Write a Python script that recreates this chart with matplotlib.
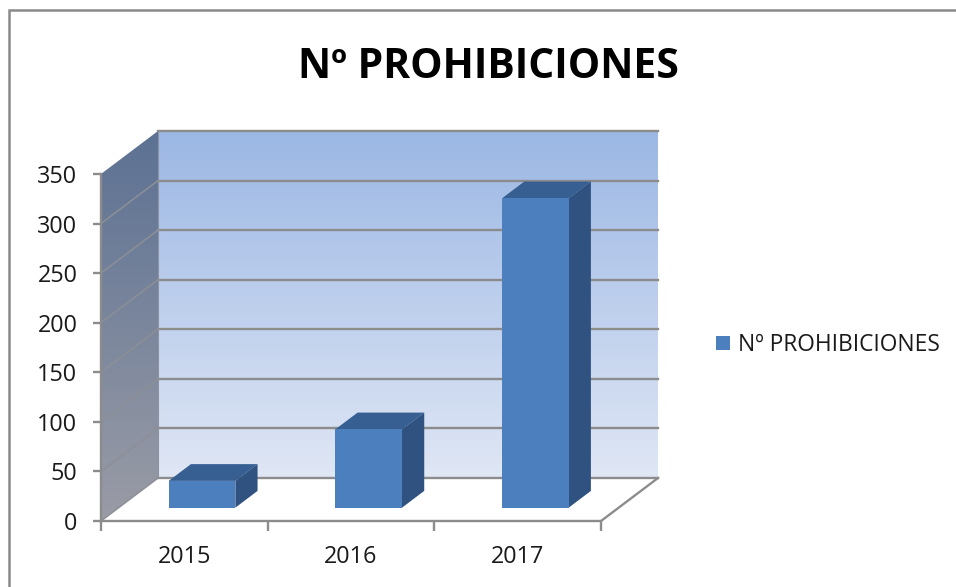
import numpy as np
import matplotlib
matplotlib.use('Agg')
from matplotlib import pyplot as plt
from matplotlib.colors import LinearSegmentedColormap
from matplotlib.lines import Line2D
from matplotlib.patches import Polygon

plt.rcParams['font.family'] = ['Open Sans', 'DejaVu Sans']

years = ['2015', '2016', '2017']
prohibiciones = [27, 79, 312]
y_ticks = [0, 50, 100, 150, 200, 250, 300, 350]
titulo = 'Nº PROHIBICIONES'

W, H = 956, 587
GREY = '#8c8c8c'

fig = plt.figure(figsize=(W / 100, H / 100), dpi=100, facecolor='white')
# front plane of the fake 3d box
ax = fig.add_axes([101 / W, 1 - 521 / H, 500 / W, 347 / H])
ax.set_facecolor('none')

# depth of the box, in data units
DX = 57 / 500 * 3
DY = 43 / 347 * 350
BAR_W = 0.4
D_FRONT, D_BACK = 0.31, 0.70


def pr(x, y, d):
    return (x + d * DX, y + d * DY)


# back wall
cm_back = LinearSegmentedColormap.from_list('back', ['#9bb7e4', '#e0e7f5'])
ax.imshow(np.linspace(0, 1, 256).reshape(-1, 1), cmap=cm_back, aspect='auto',
          extent=(DX, 3 + DX, DY, 350 + DY), origin='upper', zorder=1, clip_on=False)

# side wall
cm_side = LinearSegmentedColormap.from_list('side', ['#5c7193', '#9a9ca6'])
side = ax.imshow(np.linspace(0, 1, 256).reshape(-1, 1), cmap=cm_side, aspect='auto',
                 extent=(0, DX, 0, 350 + DY), origin='upper', zorder=1)
side_shape = Polygon([pr(0, 0, 0), pr(0, 350, 0), pr(0, 350, 1), pr(0, 0, 1)],
                     transform=ax.transData, fill=False, edgecolor='none')
ax.add_patch(side_shape)
side.set_clip_path(side_shape)
# images fall back to the axes box otherwise
side.set_clip_box(fig.bbox)

# grid on the walls
for v in y_ticks:
    ax.plot(*zip(pr(0, v, 1), pr(3, v, 1)), color=GREY, lw=1.7, zorder=2, clip_on=False)
    if v < 350:
        ax.plot(*zip(pr(0, v, 0), pr(0, v, 1)), color='#8c8f96', lw=1.1, zorder=2, clip_on=False)
ax.plot(*zip(pr(0, 0, 1), pr(0, 350, 1)), color='#8d93a0', lw=0.8, zorder=2, clip_on=False)
# floor edge on the right
ax.plot(*zip(pr(3, 0, 0), pr(3, 0, 1)), color=GREY, lw=1.7, zorder=2, clip_on=False)

# bars
for i, v in enumerate(prohibiciones):
    x0 = i + 0.5 - BAR_W / 2
    x1 = i + 0.5 + BAR_W / 2
    ax.add_patch(Polygon([pr(x0, 0, D_FRONT), pr(x1, 0, D_FRONT), pr(x1, v, D_FRONT), pr(x0, v, D_FRONT)],
                         facecolor='#4b7fbe', edgecolor='none', zorder=4, clip_on=False))
    ax.add_patch(Polygon([pr(x0, v, D_FRONT), pr(x1, v, D_FRONT), pr(x1, v, D_BACK), pr(x0, v, D_BACK)],
                         facecolor='#375f92', edgecolor='none', zorder=3, clip_on=False))
    ax.add_patch(Polygon([pr(x1, 0, D_FRONT), pr(x1, 0, D_BACK), pr(x1, v, D_BACK), pr(x1, v, D_FRONT)],
                         facecolor='#2f5280', edgecolor='none', zorder=3, clip_on=False))

ax.set_xlim(0, 3)
ax.set_ylim(0, 350)

for s in ['top', 'right']:
    ax.spines[s].set_visible(False)
for s in ['left', 'bottom']:
    ax.spines[s].set_color(GREY)
    ax.spines[s].set_linewidth(1.7)
    ax.spines[s].set_zorder(5)

ax.set_yticks(y_ticks)
ax.set_xticks([0, 1, 2, 3])
ax.set_xticklabels([])
ax.set_xticks([0.5, 1.5, 2.5], labels=years, minor=True)
ax.tick_params(axis='y', length=6, width=1.7, color=GREY, labelsize=16.8, labelcolor='#1a1a1a', pad=11)
ax.tick_params(axis='x', which='major', length=7, width=1.7, color=GREY)
ax.tick_params(axis='x', which='minor', length=0, labelsize=16.8, labelcolor='#1a1a1a', pad=17)

# title
fig.text(488 / W, 1 - 67 / H, titulo, ha='center', va='center', fontsize=29.4,
         fontweight='bold', color='black')

# legend
handle = Polygon([[0, 0]], facecolor='#4b7fbe', edgecolor='none')
fig.legend([handle], [titulo], loc='center left', bbox_to_anchor=(715.5 / W, 1 - 345 / H),
           frameon=False, fontsize=16.4, labelcolor='#1a1a1a', handlelength=0.62, handleheight=0.62,
           handletextpad=0.35, borderpad=0, borderaxespad=0)

# outer border, only top and left are inside the picture
fig.add_artist(Line2D([8.5 / W, 8.5 / W, 1], [0, 1 - 9.5 / H, 1 - 9.5 / H], color='#8a8a8a', lw=1.8,
                      solid_joinstyle='miter'))

fig.savefig('out.png', dpi=100)
